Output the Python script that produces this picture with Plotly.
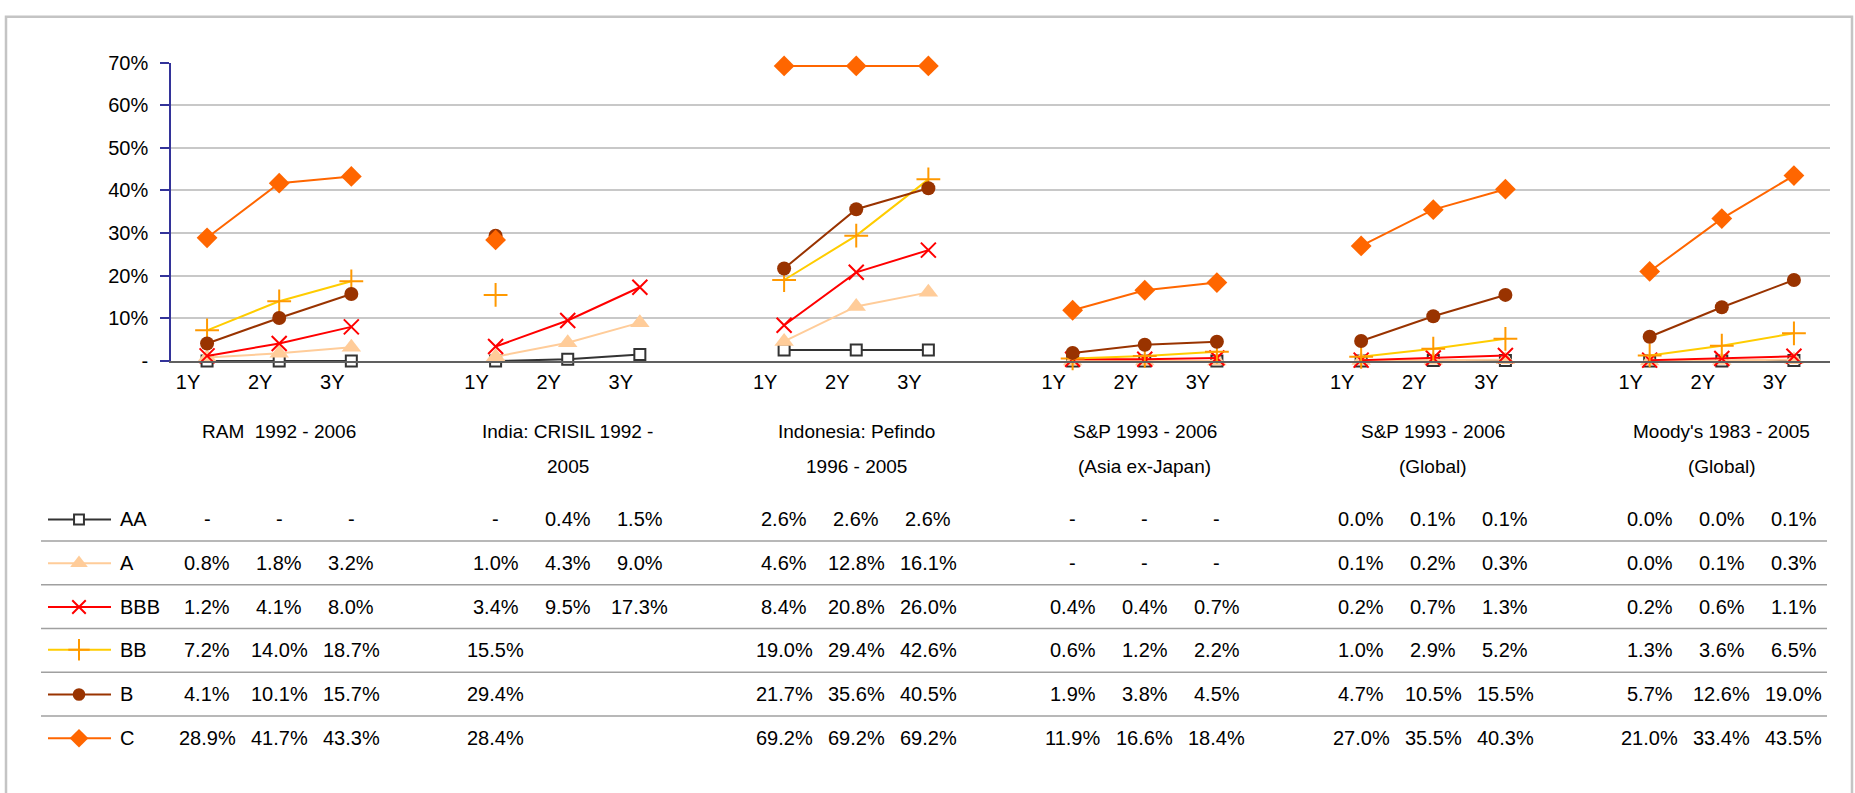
import plotly.graph_objects as go

W, H = 1855, 793

# ---------------- data ----------------
tenors = ["1Y", "2Y", "3Y"]
group_titles = [
    ("RAM  1992 - 2006", ""),
    ("India: CRISIL 1992 -", "2005"),
    ("Indonesia: Pefindo", "1996 - 2005"),
    ("S&P 1993 - 2006", "(Asia ex-Japan)"),
    ("S&P 1993 - 2006", "(Global)"),
    ("Moody's 1983 - 2005", "(Global)"),
]
# zero shown as "-" in the table for these groups
zero_as_dash = [True, True, True, True, False, False]

ratings = ["AA", "A", "BBB", "BB", "B", "C"]

aa = [[0, 0, 0], [0, 0.4, 1.5], [2.6, 2.6, 2.6], [0, 0, 0], [0.0, 0.1, 0.1], [0.0, 0.0, 0.1]]
a = [[0.8, 1.8, 3.2], [1.0, 4.3, 9.0], [4.6, 12.8, 16.1], [0, 0, 0], [0.1, 0.2, 0.3], [0.0, 0.1, 0.3]]
bbb = [[1.2, 4.1, 8.0], [3.4, 9.5, 17.3], [8.4, 20.8, 26.0], [0.4, 0.4, 0.7], [0.2, 0.7, 1.3], [0.2, 0.6, 1.1]]
bb = [[7.2, 14.0, 18.7], [15.5, None, None], [19.0, 29.4, 42.6], [0.6, 1.2, 2.2], [1.0, 2.9, 5.2], [1.3, 3.6, 6.5]]
b = [[4.1, 10.1, 15.7], [29.4, None, None], [21.7, 35.6, 40.5], [1.9, 3.8, 4.5], [4.7, 10.5, 15.5], [5.7, 12.6, 19.0]]
c = [[28.9, 41.7, 43.3], [28.4, None, None], [69.2, 69.2, 69.2], [11.9, 16.6, 18.4], [27.0, 35.5, 40.3], [21.0, 33.4, 43.5]]

series = [aa, a, bbb, bb, b, c]

y_ticks = [0, 10, 20, 30, 40, 50, 60, 70]
y_ticktext = ["-", "10%", "20%", "30%", "40%", "50%", "60%", "70%"]

# ---------------- styles ----------------
styles = {
    "AA": dict(line="#333333", mcolor="white", mline="#333333", symbol="square", size=11, mlw=2),
    "A": dict(line="#FFCC99", mcolor="#FFCC99", mline="#FFCC99", symbol="triangle-up", size=17, mlw=0),
    "BBB": dict(line="#FF0000", mcolor="#FF0000", mline="#FF0000", symbol="x-thin", size=15, mlw=2),
    "BB": dict(line="#FFCC00", mcolor="#FF9900", mline="#FF9900", symbol="cross-thin", size=17, mlw=2),
    "B": dict(line="#993300", mcolor="#993300", mline="#993300", symbol="circle", size=14, mlw=0),
    "C": dict(line="#FF6600", mcolor="#FF6600", mline="#FF6600", symbol="diamond", size=16, mlw=0),
}

FONT = "Liberation Sans, Arial, sans-serif"
n_groups = len(group_titles)
gap = 4  # 3 tenors + one blank category


def px_to_py(p):
    return 1 - p / H


# plot area (pixels)
L, R, T, B = 171, 1830, 53, 360

fig = go.Figure()

for name, data in zip(ratings, series):
    st = styles[name]
    xs, ys = [], []
    for g in range(n_groups):
        for k in range(3):
            xs.append(g * gap + k)
            ys.append(data[g][k])
        xs.append(g * gap + 3)
        ys.append(None)
    fig.add_trace(go.Scatter(
        x=xs, y=ys, mode="lines+markers", name=name,
        line=dict(color=st["line"], width=2),
        marker=dict(symbol=st["symbol"], size=st["size"], color=st["mcolor"],
                    line=dict(color=st["mline"], width=st["mlw"])),
        cliponaxis=False, connectgaps=False, showlegend=False,
        xaxis="x", yaxis="y",
    ))

# legend samples inside the table (overlay pixel axes)
row_y = [523, 568, 613, 657, 703, 748]
for name, ry in zip(ratings, row_y):
    st = styles[name]
    fig.add_trace(go.Scatter(
        x=[48, 111], y=[ry, ry], mode="lines",
        line=dict(color=st["line"], width=2),
        cliponaxis=False, showlegend=False, hoverinfo="skip",
        xaxis="x2", yaxis="y2",
    ))
    fig.add_trace(go.Scatter(
        x=[79], y=[ry], mode="markers",
        marker=dict(symbol=st["symbol"], size=st["size"] * 0.9, color=st["mcolor"],
                    line=dict(color=st["mline"], width=st["mlw"])),
        cliponaxis=False, showlegend=False, hoverinfo="skip",
        xaxis="x2", yaxis="y2",
    ))

annotations = []
# group titles
for g, (l1, l2) in enumerate(group_titles):
    xc = g * gap + 1
    annotations.append(dict(x=xc, xref="x", y=px_to_py(433), yref="paper", text=l1,
                            showarrow=False, font=dict(size=19, family=FONT, color="black"),
                            xanchor="center", yanchor="middle"))
    if l2:
        annotations.append(dict(x=xc, xref="x", y=px_to_py(468), yref="paper", text=l2,
                                showarrow=False, font=dict(size=19, family=FONT, color="black"),
                                xanchor="center", yanchor="middle"))

# table values
for name, data, ry in zip(ratings, series, row_y):
    annotations.append(dict(x=118 / W, xref="paper", y=px_to_py(ry), yref="paper", text=name,
                            showarrow=False, font=dict(size=20, family=FONT, color="black"),
                            xanchor="left", yanchor="middle"))
    for g in range(n_groups):
        for k in range(3):
            v = data[g][k]
            if v is None:
                continue
            txt = "-" if (v == 0 and zero_as_dash[g]) else f"{v:.1f}%"
            annotations.append(dict(x=g * gap + k, xref="x", y=px_to_py(ry), yref="paper", text=txt,
                                    showarrow=False, font=dict(size=20, family=FONT, color="black"),
                                    xanchor="center", yanchor="middle"))

shapes = []
# separator lines of the table
for sy in [545, 590, 635, 680, 725]:
    shapes.append(dict(type="line", xref="paper", yref="paper", x0=41 / W, x1=1827 / W,
                       y0=px_to_py(sy), y1=px_to_py(sy), line=dict(color="#A0A0A0", width=1.5)))
# outer chart border
shapes.append(dict(type="rect", xref="paper", yref="paper", x0=6 / W, x1=1852 / W,
                   y0=-0.02, y1=px_to_py(6), line=dict(color="#C4C4C4", width=2.5)))

fig.update_layout(
    width=W, height=H, autosize=False,
    margin=dict(l=0, r=0, t=0, b=0),
    paper_bgcolor="white", plot_bgcolor="rgba(0,0,0,0)",
    font=dict(family=FONT, size=20, color="black"),
    showlegend=False,
    xaxis=dict(domain=[L / W, R / W], range=[-0.5, n_groups * gap - 1 - 0.5],
               tickmode="array",
               tickvals=[g * gap + k for g in range(n_groups) for k in range(3)],
               ticktext=[t for g in range(n_groups) for t in tenors],
               showgrid=False, zeroline=False, showline=True, linecolor="#606060", linewidth=2,
               ticks="", ticklabelshift=-19, ticklabelstandoff=2,
               tickfont=dict(size=20, family=FONT, color="black"), anchor="y"),
    yaxis=dict(domain=[1 - B / H, 1 - T / H], range=[0, 70],
               tickmode="array", tickvals=y_ticks, ticktext=y_ticktext,
               showgrid=True, gridcolor="#C8C8C8", gridwidth=1.5, zeroline=False,
               showline=True, linecolor="#333399", linewidth=1.5,
               ticks="outside", ticklen=9, tickcolor="#333399", tickwidth=1.5,
               ticklabelstandoff=8,
               tickfont=dict(size=20, family=FONT, color="black"), anchor="x"),
    xaxis2=dict(domain=[0, 1], range=[0, W], visible=False, anchor="y2", fixedrange=True),
    yaxis2=dict(domain=[0, 1], range=[H, 0], visible=False, anchor="x2", fixedrange=True),
    annotations=annotations,
    shapes=shapes,
)

fig.write_html("out.html")
